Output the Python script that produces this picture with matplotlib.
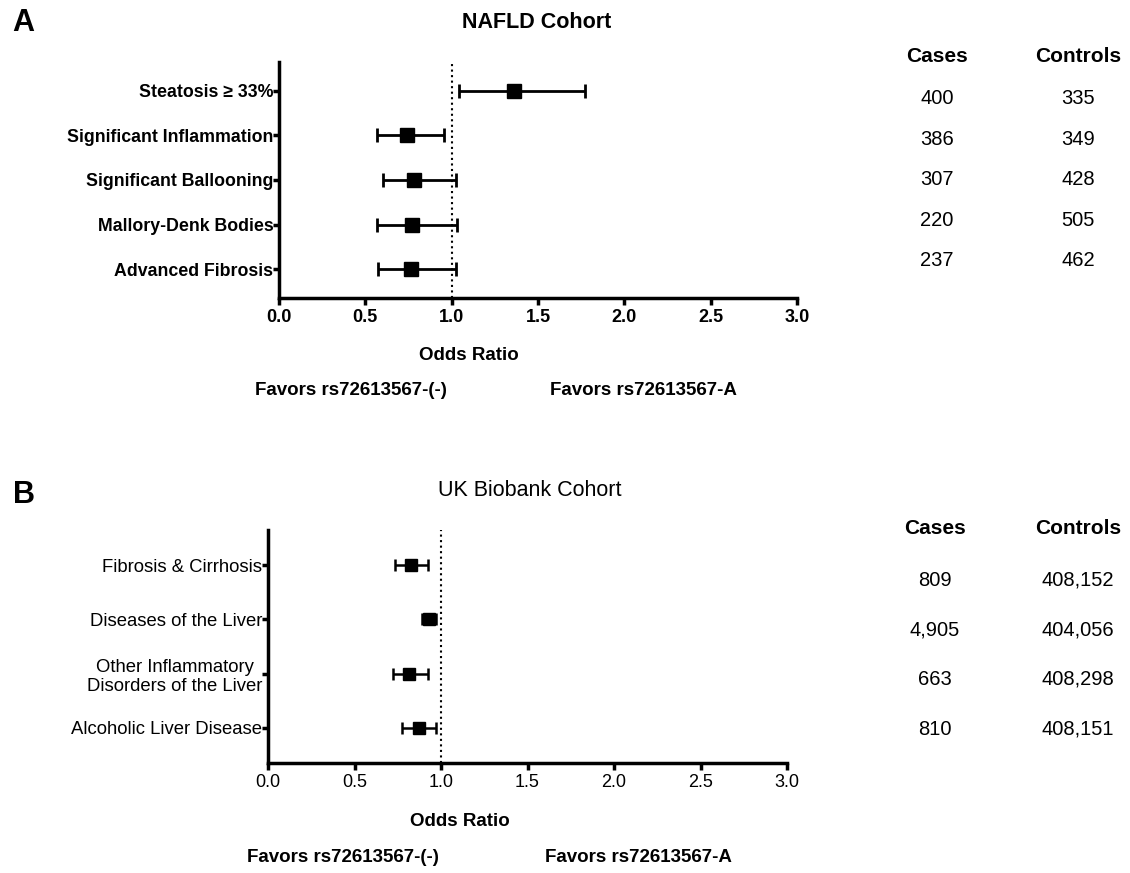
import matplotlib.pyplot as plt

# NAFLD cohort
nafld_labels = ['Steatosis \u2265 33%', 'Significant Inflammation', 'Significant Ballooning',
                'Mallory-Denk Bodies', 'Advanced Fibrosis']
nafld_or = [1.36, 0.74, 0.78, 0.77, 0.765]
nafld_lo = [1.04, 0.57, 0.60, 0.57, 0.575]
nafld_hi = [1.77, 0.955, 1.025, 1.03, 1.025]
nafld_cases = ['400', '386', '307', '220', '237']
nafld_controls = ['335', '349', '428', '505', '462']

# UK Biobank cohort
ukb_labels = ['Fibrosis & Cirrhosis', 'Diseases of the Liver',
              'Other Inflammatory\nDisorders of the Liver', 'Alcoholic Liver Disease']
ukb_or = [0.825, 0.93, 0.815, 0.87]
ukb_lo = [0.735, 0.89, 0.72, 0.775]
ukb_hi = [0.925, 0.97, 0.925, 0.972]
ukb_cases = ['809', '4,905', '663', '810']
ukb_controls = ['408,152', '404,056', '408,298', '408,151']

xticks = [0.0, 0.5, 1.0, 1.5, 2.0, 2.5, 3.0]

W, H = 1130, 873
ARIAL = ['Liberation Sans', 'DejaVu Sans']

fig = plt.figure(figsize=(W / 100, H / 100), dpi=100)


def fx(px):
    return px / W


def fy(py):
    return 1 - py / H


def forest(rect, labels, orv, lo, hi, weight, lsize, ms, cap, lw):
    ax = fig.add_axes(rect)
    n = len(labels)
    ys = list(range(1, n + 1))
    xerr = [[o - l for o, l in zip(orv, lo)], [h - o for o, h in zip(orv, hi)]]
    ax.errorbar(orv, ys, xerr=xerr, fmt='s', color='black', ms=ms, capsize=cap,
                elinewidth=lw, capthick=lw, zorder=3)
    ax.axvline(1.0, color='black', ls=':', lw=1.5, zorder=2)
    ax.set_xlim(0, 3)
    ax.set_ylim(n + 0.65, 0.35)
    ax.set_xticks(xticks)
    ax.set_xticklabels(['%.1f' % t for t in xticks], family=ARIAL, fontsize=13,
                       fontweight=weight)
    ax.set_yticks(ys)
    ax.set_yticklabels(labels, family=ARIAL, fontsize=lsize, fontweight=weight)
    for t in ax.get_yticklabels():
        t.set_multialignment('center')
    for s in ['top', 'right']:
        ax.spines[s].set_visible(False)
    for s in ['left', 'bottom']:
        ax.spines[s].set_linewidth(2.5)
    ax.tick_params(axis='y', length=4, width=2.5, pad=0)
    ax.tick_params(axis='x', length=5, width=2.5, pad=3)
    return ax


forest([fx(279), fy(298), fx(797) - fx(279), fy(62) - fy(298)],
       nafld_labels, nafld_or, nafld_lo, nafld_hi, 'bold', 12.8, 9.5, 4.8, 2.0)
forest([fx(268), fy(763), fx(787) - fx(268), fy(530) - fy(763)],
       ukb_labels, ukb_or, ukb_lo, ukb_hi, 'normal', 13.3, 8.5, 4.3, 1.8)

# panel letters and titles
fig.text(fx(23), fy(23), 'A', family=ARIAL, fontsize=22, fontweight='bold', ha='center', va='center')
fig.text(fx(24), fy(495), 'B', family=ARIAL, fontsize=22, fontweight='bold', ha='center', va='center')
fig.text(fx(537), fy(22), 'NAFLD Cohort', family=ARIAL, fontsize=15.5, fontweight='bold',
         ha='center', va='center')
fig.text(fx(530), fy(491), 'UK Biobank Cohort', family=ARIAL, fontsize=15.5,
         ha='center', va='center')

# axis titles and favors labels
for cx, cy in [(469, 356), (460, 821)]:
    fig.text(fx(cx), fy(cy), 'Odds Ratio', family=ARIAL, fontsize=13.5, fontweight='bold',
             ha='center', va='center')
for lx, rx, cy in [(351, 643, 391), (343, 638, 858)]:
    fig.text(fx(lx), fy(cy), 'Favors rs72613567-(-)', family=ARIAL, fontsize=13.5,
             fontweight='bold', ha='center', va='center')
    fig.text(fx(rx), fy(cy), 'Favors rs72613567-A', family=ARIAL, fontsize=13.5,
             fontweight='bold', ha='center', va='center')


# tables
def table(cases, controls, cx, hy, y0, dy):
    fig.text(fx(cx[0]), fy(hy), 'Cases', family=ARIAL, fontsize=15, fontweight='bold',
             ha='center', va='center')
    fig.text(fx(cx[1]), fy(hy), 'Controls', family=ARIAL, fontsize=15, fontweight='bold',
             ha='center', va='center')
    for i, (a, b) in enumerate(zip(cases, controls)):
        fig.text(fx(cx[0]), fy(y0 + i * dy), a, family=ARIAL, fontsize=14.5,
                 ha='center', va='center')
        fig.text(fx(cx[1]), fy(y0 + i * dy), b, family=ARIAL, fontsize=14.5,
                 ha='center', va='center')


table(nafld_cases, nafld_controls, (937, 1078), 57, 99, 40.5)
table(ukb_cases, ukb_controls, (935, 1078), 529, 580, 49.7)

fig.savefig('out.png', dpi=100)
